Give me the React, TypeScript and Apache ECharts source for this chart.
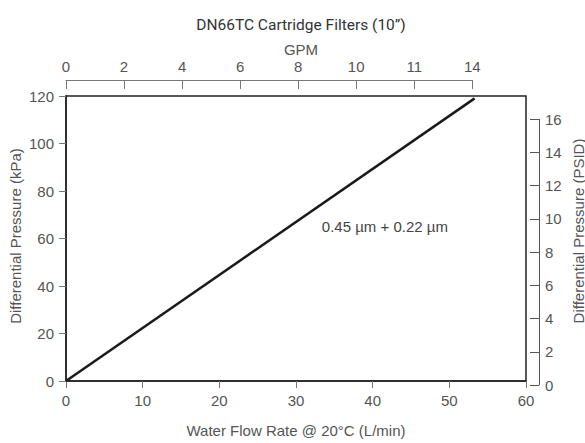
import React, { useEffect, useRef } from "react";
import * as echarts from "echarts";

// ---- data ----
const flowLpm = [0, 53.3];
const pressureKpa = [0, 119];
const gpmTickLabels = ["0", "2", "4", "6", "8", "10", "11", "14"];
const gpmMax = 14;
const lpmPerGpm = 3.78541;
const kpaPerPsi = 6.89476;
const psidMax = 16;
const psidInterval = 2;
const flowMax = 60;
const flowInterval = 10;
const kpaMax = 120;
const kpaInterval = 20;
const annotationText = "0.45 µm + 0.22 µm";
const annotationAt = [33.3, 65];

const W = 585;
const H = 443;
const PL = 66;
const PR = 526;
const PT = 96;
const PB = 385;

export default function App() {
  const ref = useRef<HTMLDivElement>(null);
  useEffect(() => {
    if (!ref.current) return;
    const chart = echarts.init(ref.current, null, { renderer: "svg" });
    const plotW = PR - PL;
    const plotH = PB - PT;
    const topAxisW = (plotW * gpmMax * lpmPerGpm) / flowMax;
    const rightAxisH = (plotH * psidMax * kpaPerPsi) / kpaMax;
    const labelFont = "Liberation Sans";
    const labelColor = "#555";
    const fs = 15;

    chart.setOption({
      animation: false,
      title: [
        {
          text: "DN66TC Cartridge Filters (10\u201D)",
          left: (PL + PR) / 2,
          top: 12,
          textAlign: "center",
          textStyle: { fontFamily: "Roboto", fontSize: 15.5, fontWeight: "normal", color: "#333" },
        },
        {
          text: "GPM",
          left: (PL + PR) / 2,
          top: 37,
          textAlign: "center",
          textStyle: { fontFamily: labelFont, fontSize: fs, fontWeight: "normal", color: labelColor },
        },
      ],
      graphic: [
        {
          type: "text",
          x: 15,
          y: 236,
          rotation: Math.PI / 2,
          style: {
            text: "Differential Pressure (kPa)",
            fontFamily: labelFont,
            fontSize: fs,
            fill: labelColor,
            align: "center",
            verticalAlign: "middle",
          },
        },
        {
          type: "text",
          x: 578,
          y: 231,
          rotation: Math.PI / 2,
          style: {
            text: "Differential Pressure (PSID)",
            fontFamily: labelFont,
            fontSize: fs,
            fill: labelColor,
            align: "center",
            verticalAlign: "middle",
          },
        },
      ],
      grid: [
        {
          left: PL,
          top: PT,
          width: plotW,
          height: plotH,
          show: true,
          borderColor: "#222",
          borderWidth: 1.5,
          backgroundColor: "transparent",
        },
        { left: PL, top: PT - 17, width: topAxisW, height: 1 },
        { left: 539, top: PB - rightAxisH, width: 1, height: rightAxisH },
      ],
      xAxis: [
        {
          gridIndex: 0,
          type: "value",
          min: 0,
          max: flowMax,
          interval: flowInterval,
          name: "Water Flow Rate @ 20\u00B0C (L/min)",
          nameLocation: "middle",
          nameGap: 42,
          nameTextStyle: { fontFamily: labelFont, fontSize: fs, color: labelColor },
          axisLine: { lineStyle: { color: "#222", width: 1.5 } },
          axisTick: { show: true, length: 7, lineStyle: { color: "#777" } },
          axisLabel: { margin: 12, fontFamily: labelFont, fontSize: fs, color: labelColor },
          splitLine: { show: false },
        },
        {
          gridIndex: 1,
          type: "category",
          position: "top",
          data: gpmTickLabels,
          boundaryGap: false,
          axisLine: { lineStyle: { color: "#777", width: 1 } },
          axisTick: { show: true, inside: true, length: 9, lineStyle: { color: "#777" } },
          axisLabel: { margin: 5, fontFamily: labelFont, fontSize: fs, color: labelColor, interval: 0 },
          splitLine: { show: false },
        },
        {
          gridIndex: 2,
          type: "value",
          show: false,
        },
      ],
      yAxis: [
        {
          gridIndex: 0,
          type: "value",
          min: 0,
          max: kpaMax,
          interval: kpaInterval,
          axisLine: { show: true, lineStyle: { color: "#222", width: 1.5 } },
          axisTick: { show: true, length: 7, lineStyle: { color: "#777" } },
          axisLabel: { margin: 12, fontFamily: labelFont, fontSize: fs, color: labelColor },
          splitLine: { show: false },
        },
        {
          gridIndex: 1,
          type: "value",
          show: false,
        },
        {
          gridIndex: 2,
          type: "value",
          position: "right",
          min: 0,
          max: psidMax,
          interval: psidInterval,
          axisLine: { show: true, lineStyle: { color: "#555", width: 1 } },
          axisTick: { show: true, inside: true, length: 9, lineStyle: { color: "#555" } },
          axisLabel: { margin: 5, fontFamily: labelFont, fontSize: fs, color: labelColor },
          splitLine: { show: false },
        },
      ],
      series: [
        {
          type: "line",
          xAxisIndex: 0,
          yAxisIndex: 0,
          data: flowLpm.map((x, i) => [x, pressureKpa[i]]),
          showSymbol: false,
          symbol: "none",
          lineStyle: { color: "#1a1a1a", width: 2.5 },
          markPoint: {
            symbol: "circle",
            symbolSize: 1,
            itemStyle: { color: "transparent" },
            label: {
              show: true,
              position: "right",
              distance: 0,
              formatter: annotationText,
              fontFamily: labelFont,
              fontSize: fs,
              color: "#444",
            },
            data: [{ coord: annotationAt }],
          },
        },
      ],
    });
    return () => chart.dispose();
  }, []);
  return (
    <div
      ref={ref}
      style={{ position: "fixed", left: 0, top: 0, width: W, height: H, background: "#fff" }}
    />
  );
}
